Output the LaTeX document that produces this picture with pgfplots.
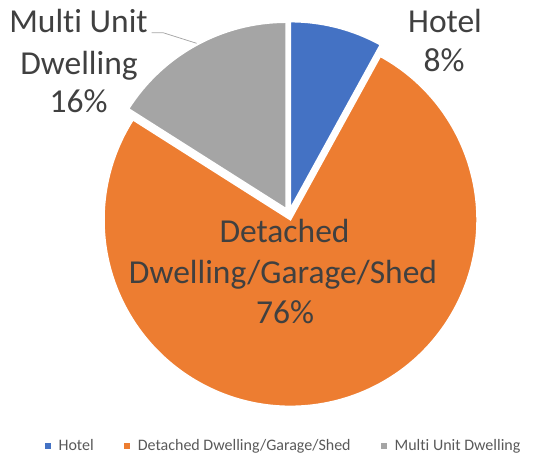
\documentclass[border=0pt]{standalone}
\usepackage{pgfplots}
\usepackage{pgfplotstable}
\pgfplotsset{compat=1.18}
\usepackage{fontspec}
\setmainfont{Carlito}[Ligatures={NoCommon}]
\definecolor{cBlue}{HTML}{4472C4}
\definecolor{cOrange}{HTML}{ED7D31}
\definecolor{cGray}{HTML}{A5A5A5}
\definecolor{labtext}{HTML}{404040}
\definecolor{legtext}{HTML}{595959}
\definecolor{leader}{HTML}{A6A6A6}

\pgfplotstableread{
label value
Hotel 8
Detached 76
Multi 16
}\piedata

\pgfplotstablegetelem{0}{value}\of\piedata \pgfmathsetmacro\vA{\pgfplotsretval}
\pgfplotstablegetelem{1}{value}\of\piedata \pgfmathsetmacro\vB{\pgfplotsretval}
\pgfplotstablegetelem{2}{value}\of\piedata \pgfmathsetmacro\vC{\pgfplotsretval}
\pgfmathsetmacro\aA{90}
\pgfmathsetmacro\bA{\aA-3.6*\vA}
\pgfmathsetmacro\aB{\bA}
\pgfmathsetmacro\bB{\aB-3.6*\vB}
\pgfmathsetmacro\aC{\bB}
\pgfmathsetmacro\bC{\aC-3.6*\vC}
\pgfmathsetmacro\mA{(\aA+\bA)/2}
\pgfmathsetmacro\mB{(\aB+\bB)/2}
\pgfmathsetmacro\mC{(\aC+\bC)/2}
\def\expl{6}
\def\rad{186.5bp}

\begin{document}
\begin{tikzpicture}
\begin{axis}[
  x=1bp, y=1bp,
  xmin=-289, xmax=252, ymin=-239, ymax=214,
  hide axis, clip=false,
  legend columns=3,
  legend cell align=left,
  legend style={at={(axis cs:-5.5,-232)}, anchor=center, draw=none, fill=none,
    font=\fontsize{16bp}{19bp}\selectfont, text=legtext, inner sep=0pt,
    /tikz/every even column/.append style={column sep=28bp}},
  legend image code/.code={\fill[#1,draw=none] (0bp,-3.25bp) rectangle (6.5bp,3.25bp);
    \path[draw=none,fill=none] (0bp,-0.1bp) rectangle (12bp,0.1bp);},
]
\path (rel axis cs:0,0) rectangle (rel axis cs:1,1);
\fill[cBlue, draw=white, line width=1.5bp]
  (axis cs:{\expl*cos(\mA)},{\expl*sin(\mA)}) -- ++(\aA:\rad)
  arc[start angle=\aA, end angle=\bA, radius=\rad] -- cycle;
\fill[cOrange, draw=white, line width=1.5bp]
  (axis cs:{\expl*cos(\mB)},{\expl*sin(\mB)}) -- ++(\aB:\rad)
  arc[start angle=\aB, end angle=\bB, radius=\rad] -- cycle;
\fill[cGray, draw=white, line width=1.5bp]
  (axis cs:{\expl*cos(\mC)},{\expl*sin(\mC)}) -- ++(\aC:\rad)
  arc[start angle=\aC, end angle=\bC, radius=\rad] -- cycle;

\addlegendimage{cBlue}\addlegendentry{Hotel}
\addlegendimage{cOrange}\addlegendentry{Detached Dwelling/Garage/Shed}
\addlegendimage{cGray}\addlegendentry{Multi Unit Dwelling}

\draw[leader, line width=0.75bp] (axis cs:-137.4,181.3) -- (axis cs:-126,181.3) -- (axis cs:-92.4,170.7);

\begin{scope}[every node/.style={text=labtext, font=\fontsize{33.5bp}{40bp}\selectfont, inner sep=0pt, anchor=base}]
\node at (axis cs:156,181) {Hotel};
\node at (axis cs:155,142) {8\%};
\node at (axis cs:-210.5,181) {Multi Unit};
\node at (axis cs:-210,139) {Dwelling};
\node at (axis cs:-210.5,101) {16\%};
\node at (axis cs:-4.5,-29) {Detached};
\node at (axis cs:-6,-69) {Dwelling/Garage/Shed};
\node at (axis cs:-4,-109) {76\%};
\end{scope}
\end{axis}
\end{tikzpicture}
\end{document}
